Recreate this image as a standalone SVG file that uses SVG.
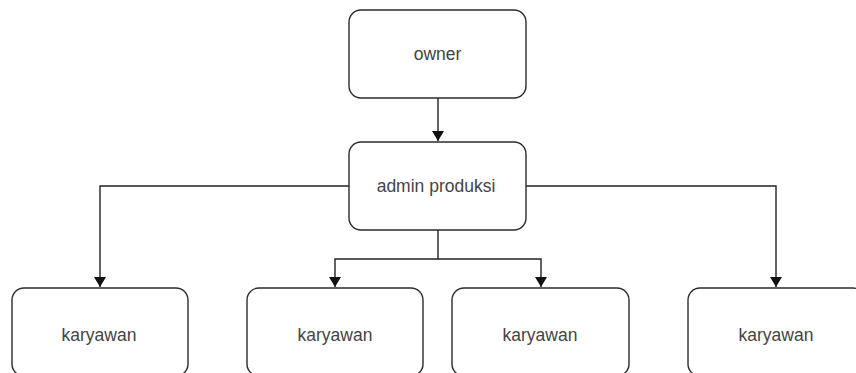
<svg xmlns="http://www.w3.org/2000/svg" width="856" height="373" viewBox="0 0 856 373">
  <style>
    .box { fill: #ffffff; stroke: #2b2b2b; stroke-width: 1.4; }
    .label { font-family: "Liberation Sans", Arial, sans-serif; font-size: 17.5px; fill: #444444; text-anchor: middle; }
    .edge { fill: none; stroke: #222222; stroke-width: 1.4; }
  </style>
  <defs>
    <marker id="arrow" viewBox="0 0 10 12" refX="10" refY="6" markerWidth="11" markerHeight="12" markerUnits="userSpaceOnUse" orient="auto">
      <path d="M0,0 L10,6 L0,12 Z" fill="#111111"/>
    </marker>
  </defs>
  <rect width="856" height="373" fill="#ffffff"/>

  <g id="connectors">
    <path class="edge" d="M438,98 V141" marker-end="url(#arrow)"/>
    <path class="edge" d="M349,186 H100 V287" marker-end="url(#arrow)"/>
    <path class="edge" d="M438,230 V259 H335 V287" marker-end="url(#arrow)"/>
    <path class="edge" d="M438,259 H541 V287" marker-end="url(#arrow)"/>
    <path class="edge" d="M526,186 H776 V287" marker-end="url(#arrow)"/>
  </g>

  <g id="owner">
    <rect class="box" x="349" y="10" width="177" height="88" rx="12"/>
    <text class="label" x="437.5" y="60">owner</text>
  </g>
  <g id="admin-produksi">
    <rect class="box" x="349" y="142" width="177" height="88" rx="12"/>
    <text class="label" x="436" y="192">admin produksi</text>
  </g>
  <g id="karyawan-1">
    <rect class="box" x="12" y="288" width="176" height="88" rx="12"/>
    <text class="label" x="99" y="341">karyawan</text>
  </g>
  <g id="karyawan-2">
    <rect class="box" x="247" y="288" width="176" height="88" rx="12"/>
    <text class="label" x="335" y="341">karyawan</text>
  </g>
  <g id="karyawan-3">
    <rect class="box" x="452" y="288" width="177" height="88" rx="12"/>
    <text class="label" x="540" y="341">karyawan</text>
  </g>
  <g id="karyawan-4">
    <rect class="box" x="688" y="288" width="177" height="88" rx="12"/>
    <text class="label" x="776" y="341">karyawan</text>
  </g>
</svg>
